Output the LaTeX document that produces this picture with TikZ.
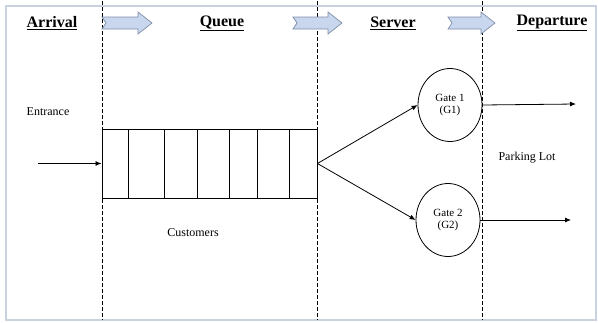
\documentclass[tikz,border=0pt]{standalone}
\usepackage{fontspec}
\setmainfont{Liberation Serif}
\usetikzlibrary{shapes.geometric,arrows.meta}
\definecolor{framecol}{HTML}{C9D3E0}
\definecolor{blockfill}{HTML}{C8D6EE}
\definecolor{blockline}{HTML}{7F8FA8}
\tikzset{
	hdr/.style={font=\fontsize{16}{18}\selectfont\bfseries},
	lbl/.style={font=\fontsize{12}{14}\selectfont},
	gate/.style={draw, ellipse, line width=0.8pt, minimum width=64pt, minimum height=73pt, inner sep=0pt, align=center, font=\fontsize{11}{12.5}\selectfont},
	dashln/.style={line width=1pt, dash pattern=on 3.5pt off 2.5pt},
	flow/.style={line width=0.8pt, -{Latex[length=6pt,width=5pt]}}
}
\begin{document}
\begin{tikzpicture}[x=1pt,y=-1pt]
	\useasboundingbox (0,0) rectangle (598,322);
	% frame
	\draw[framecol, line width=1.5pt] (6,6) rectangle (596,320);
	
	% stage borders
	\foreach \x in {102, 317, 482}
		\draw[dashln] (\x,1) -- (\x,320);
	
	% headings
	\node[hdr] (arrival) at (52,23) {\underline{Arrival}};
	\node[hdr] (queuehd) at (222,23) {\underline{Queue}};
	\node[hdr] (serverhd) at (393,23) {\underline{Server}};
	\node[hdr] (departhd) at (552,23) {\underline{Departure}};
	
	% block arrows between headings
	\foreach \a/\b in {102/152, 293/342, 448/495}
		\draw[fill=blockfill, draw=blockline, line width=0.7pt]
			(\a,17) -- ({\b-14},17) -- ({\b-14},12) -- (\b,23) -- ({\b-14},34)
			-- ({\b-14},29) -- (\a,29) -- ({\a+4},23) -- cycle;
	
	% queue
	\node[draw, line width=0.9pt, minimum width=215pt, minimum height=69pt, inner sep=0pt] (queue) at (209.5,163.5) {};
	\foreach \x in {128, 164, 197, 229, 257, 289}
		\draw[line width=0.8pt] (\x,129) -- (\x,198);
	\node[lbl] (entrance) at (48,112) {Entrance};
	\node[lbl] (customers) at (193,233) {Customers};
	\coordinate (entry) at (38,163.5);
	\draw[flow] (entry) -- (queue.west);
	
	% gates
	\node[gate] (gate1) at (450,105) {Gate 1\\(G1)};
	\node[gate] (gate2) at (448,220) {Gate 2\\(G2)};
	\draw[flow] (queue.east) -- (gate1.west);
	\draw[flow] (queue.east) -- (gate2.west);
	
	% departure
	\node[lbl] (parking) at (527,158) {Parking Lot};
	\coordinate (exit1) at (576,104);
	\coordinate (exit2) at (571,220);
	\draw[flow] (gate1.east) -- (exit1);
	\draw[flow] (gate2.east) -- (exit2);
\end{tikzpicture}
\end{document}
